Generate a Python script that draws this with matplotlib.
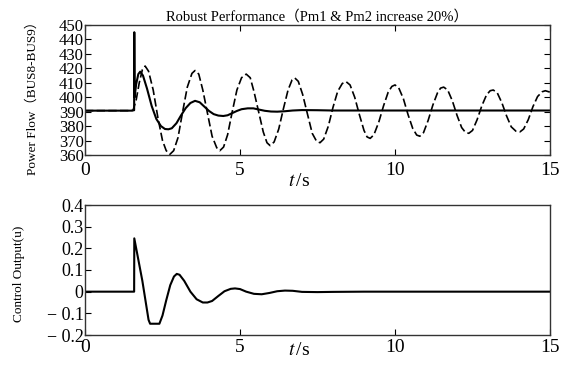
import matplotlib
matplotlib.use("Agg")
import matplotlib.pyplot as plt

plt.rcParams['font.family'] = ['Liberation Serif', 'Noto Sans CJK SC', 'DejaVu Sans']
plt.rcParams['mathtext.fontset'] = 'stix'

# ---- data ----
t_nc = [0, 1.5, 1.55, 1.65, 1.75, 1.85, 1.94, 2.05, 2.2, 2.35, 2.5, 2.62, 2.74, 2.86, 3.0, 3.15,
        3.3, 3.45, 3.55, 3.67, 3.8, 3.95, 4.1, 4.25, 4.35, 4.47, 4.6, 4.75, 4.9, 5.05, 5.2, 5.33,
        5.45, 5.6, 5.75, 5.87, 5.97, 6.1, 6.25, 6.4, 6.55, 6.68, 6.77, 6.88, 7.02, 7.18, 7.33,
        7.47, 7.58, 7.7, 7.85, 8.0, 8.15, 8.3, 8.42, 8.55, 8.7, 8.85, 9.0, 9.1, 9.2, 9.32, 9.48,
        9.63, 9.78, 9.9, 10.0, 10.12, 10.27, 10.42, 10.57, 10.7, 10.8, 10.92, 11.07, 11.22, 11.37,
        11.47, 11.57, 11.7, 11.85, 12.0, 12.15, 12.27, 12.38, 12.5, 12.65, 12.8, 12.95, 13.07,
        13.17, 13.3, 13.45, 13.6, 13.75, 13.9, 14.03, 14.15, 14.3, 14.45, 14.6, 14.75, 14.85, 15.0]
p_nc = [390.7, 390.7, 391, 398, 410, 419, 421.6, 418, 405, 386, 370, 363, 360.5, 363, 372, 390,
        407, 416.5, 418.5, 416, 405, 389, 373, 365, 363, 365.5, 374, 390, 405, 413.5, 416, 413.5,
        404, 390, 376, 368.5, 366.5, 369, 378, 392, 405, 412, 413.3, 411, 402, 388, 375,
        369.5, 368.5, 371, 380, 393, 404, 409.5, 410.8, 408.5, 400, 388, 377, 372.5, 371.5, 374, 383,
        394, 403.5, 407.5, 408.5, 406.5, 399, 388, 378.5, 373.8, 373, 375.5, 384, 394.5, 403,
        406.3, 407, 405, 397.5, 387.5, 379, 375.7, 375, 377, 384.5, 394, 401.5, 404.5,
        405, 403, 396, 387, 379.5, 376.5, 376, 378, 384.5, 393.5, 400.5, 403.8, 404.5, 403.5]

t_rc = [0, 1.5, 1.585, 1.59, 1.6, 1.65, 1.72, 1.78, 1.87, 2.0, 2.15, 2.3, 2.45, 2.58, 2.69, 2.8,
        2.95, 3.1, 3.25, 3.4, 3.55, 3.7, 3.85, 4.0, 4.15, 4.3, 4.46, 4.6, 4.75, 4.9, 5.05, 5.25,
        5.43, 5.6, 5.8, 6.0, 6.2, 6.45, 6.7, 7.0, 7.5, 8.0, 9.0, 15.0]
p_rc = [390.7, 390.7, 391, 445, 400, 409, 416, 417.7, 415, 406, 394, 385, 380, 378, 377.8, 378.5,
        382, 387.5, 392.5, 396, 397.5, 396.5, 393.5, 390.5, 388.3, 387.3, 387, 387.5, 389, 390.5, 391.7, 392.3,
        392.3, 391.5, 390.6, 390.1, 390, 390.3, 390.8, 391.1, 391, 390.8, 390.8, 390.8]

t_u = [0, 1.585, 1.59, 1.85, 2.05, 2.1, 2.4, 2.5, 2.62, 2.75, 2.87, 2.96, 3.05, 3.2, 3.4, 3.6,
       3.8, 3.95, 4.1, 4.3, 4.5, 4.7, 4.84, 5.0, 5.2, 5.45, 5.7, 5.95, 6.2, 6.45, 6.7, 7.0, 7.5,
       8.0, 9.0, 15.0]
u = [0, 0, 0.246, 0.05, -0.13, -0.148, -0.148, -0.11, -0.04, 0.03, 0.07, 0.082, 0.078, 0.05, 0.0, -0.035,
     -0.05, -0.05, -0.043, -0.02, 0.002, 0.013, 0.015, 0.012, 0.0, -0.01, -0.012, -0.006, 0.002, 0.005, 0.004, -0.001, -0.002,
     -0.001, 0, 0]

xticks = [0, 5, 10, 15]
xticklabels = ['0', '5', '10', '15']
yticks_top = [360, 370, 380, 390, 400, 410, 420, 430, 440, 450]
yticks_bot = [-0.2, -0.1, 0, 0.1, 0.2, 0.3, 0.4]
yticklabels_bot = ['\u2212 0.2', '\u2212 0.1', '0', '0.1', '0.2', '0.3', '0.4']

W, H = 574, 367
fig = plt.figure(figsize=(W / 100, H / 100), dpi=100)
ax1 = fig.add_axes([85 / W, 1 - 155 / H, 465 / W, 130 / H])
ax2 = fig.add_axes([85 / W, 1 - 335 / H, 465 / W, 130 / H])

ax1.plot(t_nc, p_nc, color='black', lw=1.2, linestyle=(0, (5, 2)))
ax1.plot(t_rc, p_rc, color='black', lw=1.5)
ax2.plot(t_u, u, color='black', lw=1.5)

for ax in (ax1, ax2):
    ax.set_xlim(0, 15)
    ax.set_xticks(xticks)
    ax.set_xticklabels(xticklabels, fontsize=14)
    ax.tick_params(direction='in', length=4, width=0.8)
    ax.tick_params(axis='y', pad=1)
    for s in ax.spines.values():
        s.set_linewidth(1.0)
        s.set_color('#333333')
    ax.set_xlabel(r'$t\,$/s', fontsize=14, va='center')

ax1.tick_params(axis='x', pad=5)
ax2.tick_params(axis='x', pad=3)

ax1.set_ylim(360, 450)
ax1.set_yticks(yticks_top)
ax1.set_yticklabels([str(v) for v in yticks_top], fontsize=12)
ax1.tick_params(top=True, right=True)
ax1.set_title('Robust Performance\uff08Pm1 & Pm2 increase 20%\uff09', fontsize=10.5, pad=3)
ax1.set_ylabel('Power Flow\uff08BUS8-BUS9\uff09', fontsize=9.5)
ax1.yaxis.set_label_coords(-0.1, 0.46)
ax1.xaxis.set_label_coords(0.46, -0.2)

ax2.set_ylim(-0.2, 0.4)
ax2.set_yticks(yticks_bot)
ax2.set_yticklabels(yticklabels_bot, fontsize=13)
ax2.set_ylabel('Control Output(u)', fontsize=9.5)
ax2.yaxis.set_label_coords(-0.128, 0.47)
ax2.xaxis.set_label_coords(0.46, -0.12)

fig.savefig('out.png', dpi=100)
